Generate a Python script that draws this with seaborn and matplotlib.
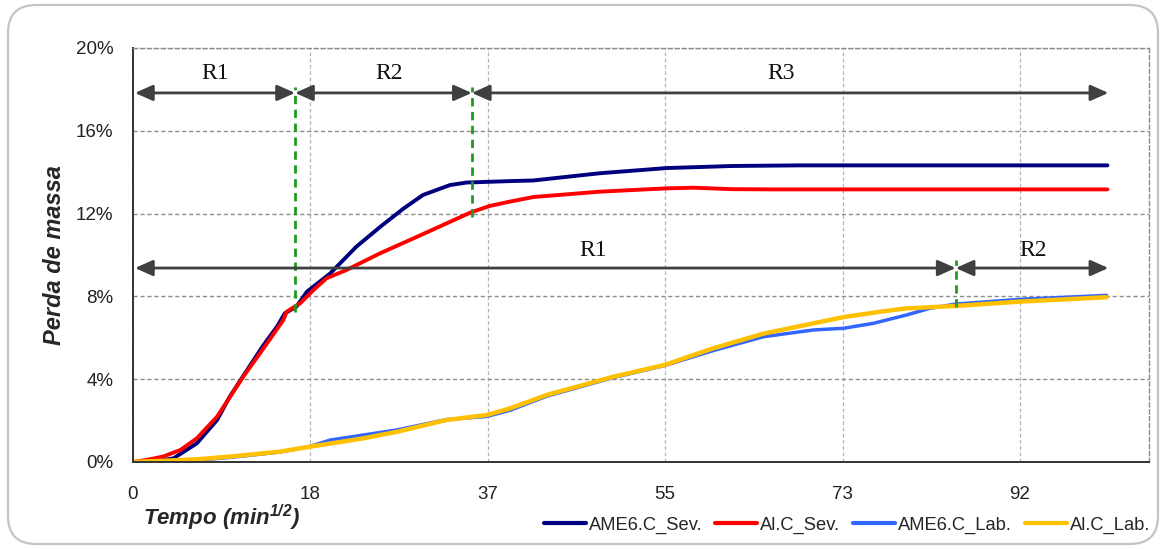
import matplotlib
matplotlib.use("Agg")
import matplotlib.pyplot as plt
from matplotlib.patches import FancyBboxPatch
from matplotlib.lines import Line2D
import pandas as pd
import seaborn as sns

# --- data (x in min^1/2, y in % mass loss) ---
ame6_sev_x = [0, 2, 4.2, 6.6, 8.7, 10.0, 11.8, 13.5, 14.9, 15.7, 16.9, 18.0, 20.4, 23.1, 25.6,
              28.0, 30.0, 32.8, 34.5, 39.0, 41.4, 48.3, 55.2, 62, 69, 80, 90, 100.8]
ame6_sev_y = [0, 0, 0.18, 0.9, 2.03, 3.15, 4.44, 5.65, 6.54, 7.18, 7.5, 8.23, 9.11, 10.4, 11.37,
              12.25, 12.9, 13.38, 13.5, 13.57, 13.6, 13.95, 14.2, 14.3, 14.33, 14.33, 14.33, 14.33]

al_sev_x = [0, 1.4, 3.1, 4.9, 6.6, 8.7, 11.4, 13.5, 15.55, 15.9, 17.3, 18.65, 20.0, 22.1, 25.55,
            29.0, 32.45, 34.9, 36.9, 39.0, 41.4, 48.3, 55.2, 58, 62, 66, 80, 100.8]
al_sev_y = [0, 0.1, 0.26, 0.58, 1.14, 2.19, 4.12, 5.49, 6.86, 7.26, 7.67, 8.3, 8.87, 9.28, 10.08,
            10.8, 11.53, 12.05, 12.37, 12.58, 12.8, 13.06, 13.22, 13.25, 13.18, 13.17, 13.17, 13.17]

ame6_lab_x = [0, 5, 10, 15.2, 18.3, 20.4, 27.3, 32.45, 36.6, 39, 42.8, 49.7, 55, 60, 65.2,
              70.4, 73.5, 76.6, 80, 82.4, 85.1, 91.8, 100.7]
ame6_lab_y = [0, 0.02, 0.22, 0.48, 0.75, 1.06, 1.55, 2.05, 2.2, 2.5, 3.18, 4.08, 4.66, 5.38, 6.05,
              6.38, 6.46, 6.7, 7.1, 7.42, 7.63, 7.86, 8.05]

al_lab_x = [0, 6.6, 10.0, 15.2, 18.3, 23.8, 27.3, 32.45, 36.6, 39.0, 42.8, 49.7, 55.0, 60.0,
            65.2, 70.4, 73.5, 77.3, 80.0, 85.1, 91.8, 100.7]
al_lab_y = [0, 0.13, 0.26, 0.5, 0.74, 1.14, 1.46, 2.03, 2.27, 2.59, 3.24, 4.12, 4.69, 5.49,
            6.2, 6.7, 7.0, 7.26, 7.42, 7.54, 7.75, 7.96]

series_names = ["AME6.C_Sev.", "Al.C_Sev.", "AME6.C_Lab.", "Al.C_Lab."]
series_colors = ["#00007f", "#ff0000", "#3366ff", "#ffc000"]
series_widths = [2.8, 2.8, 2.5, 3.2]

x_tick_step = 18.35
x_tick_labels = ["0", "18", "37", "55", "73", "92"]
y_ticks = [0, 4, 8, 12, 16, 20]

# regime boundaries (vertical green markers) and arrow rows
sev_bounds = [0.2, 16.76, 35.05, 100.9]
sev_labels = ["R1", "R2", "R3"]
sev_label_x = [8.5, 26.5, 67.0]
lab_bounds = [0.2, 85.1, 100.9]
lab_labels = ["R1", "R2"]
lab_label_x = [47.6, 93.1]

frames = []
for name, xs, ys in zip(series_names,
                        [ame6_sev_x, al_sev_x, ame6_lab_x, al_lab_x],
                        [ame6_sev_y, al_sev_y, ame6_lab_y, al_lab_y]):
    frames.append(pd.DataFrame({"tempo": xs, "perda": ys, "serie": name}))
df = pd.concat(frames, ignore_index=True)

sns.set_style("white")
plt.rcParams["font.family"] = ["Liberation Sans", "DejaVu Sans"]
plt.rcParams["mathtext.fontset"] = "custom"
plt.rcParams["mathtext.it"] = "Liberation Sans:bold:italic"
plt.rcParams["mathtext.rm"] = "Liberation Sans:bold:italic"

fig = plt.figure(figsize=(11.63, 5.49), dpi=100)
ax = fig.add_axes([133 / 1163, 1 - 462 / 549, (1149 - 133) / 1163, (462 - 48) / 549])

sns.lineplot(data=df, x="tempo", y="perda", hue="serie", hue_order=series_names,
             palette=dict(zip(series_names, series_colors)), sort=False,
             estimator=None, legend=False, ax=ax)
for line, lw in zip(ax.get_lines(), series_widths):
    line.set_linewidth(lw)
    line.set_solid_capstyle("round")
    line.set_solid_joinstyle("round")

ax.set_xlim(0, 105.1)
ax.set_ylim(0, 20)
ax.set_xticks([i * x_tick_step for i in range(len(x_tick_labels))])
ax.set_xticklabels(x_tick_labels)
ax.set_yticks(y_ticks)
ax.set_yticklabels([f"{v}%" for v in y_ticks])
ax.tick_params(axis="both", labelsize=13.5, colors="#222222", length=5, width=1.2,
               direction="out")
ax.tick_params(axis="y", pad=9)
ax.tick_params(axis="x", pad=12)

ax.grid(True, axis="y", color="#8c8c8c", linestyle=(0, (3, 2)), linewidth=1.0)
ax.grid(True, axis="x", color="#b4b4b4", linestyle=(0, (3, 2)), linewidth=0.9)
for side in ["top", "right"]:
    ax.spines[side].set_color("#8c8c8c")
    ax.spines[side].set_linestyle((0, (3, 2)))
    ax.spines[side].set_linewidth(1.0)
for side in ["left", "bottom"]:
    ax.spines[side].set_color("#333333")
    ax.spines[side].set_linewidth(1.4)

ax.set_xlabel("")
ax.set_ylabel("Perda de massa", fontsize=17, fontweight="bold", fontstyle="italic",
              labelpad=7)
fig.text(143 / 1163, 1 - 518 / 549, r"Tempo (min$^{1/2}$)", fontsize=16,
         fontweight="bold", fontstyle="italic", ha="left", va="center")

# green regime boundaries
green = "#1e9a1e"
ax.vlines(sev_bounds[1], 7.26, 18.1, colors=green, linestyles=(0, (3, 2)), linewidth=2)
ax.vlines(sev_bounds[2], 11.85, 18.1, colors=green, linestyles=(0, (3, 2)), linewidth=2)
ax.vlines(lab_bounds[1], 7.47, 9.76, colors=green, linestyles=(0, (3, 2)), linewidth=2)

arrow_kw = dict(arrowstyle="<|-|>,head_length=0.9,head_width=0.4", color="#404040",
                lw=2, mutation_scale=12, shrinkA=0, shrinkB=0)


def draw_arrow_row(bounds, labels, label_x, y_arrow, y_text):
    for a, b in zip(bounds[:-1], bounds[1:]):
        ax.annotate("", xy=(b, y_arrow), xytext=(a, y_arrow), arrowprops=arrow_kw)
    for lab, lx in zip(labels, label_x):
        ax.text(lx, y_text, lab, fontsize=17, family="Liberation Serif", ha="center",
                va="center", color="#111111")


draw_arrow_row(sev_bounds, sev_labels, sev_label_x, 17.83, 18.75)
draw_arrow_row(lab_bounds, lab_labels, lab_label_x, 9.37, 10.2)

handles = [Line2D([0], [0], color=c, lw=3) for c in series_colors]
fig.legend(handles, series_names, loc="center right", ncol=4,
           bbox_to_anchor=(1150 / 1163, 1 - 525 / 549), frameon=False, fontsize=13.2,
           handlelength=2.3, handletextpad=0.15, columnspacing=0.7, borderpad=0,
           borderaxespad=0)

frame = FancyBboxPatch((0.08, 0.05), 11.5, 5.39, boxstyle="round,pad=0,rounding_size=0.28",
                       transform=fig.dpi_scale_trans, fill=False, ec="#c4c4c4", lw=1.6)
fig.patches.append(frame)

fig.savefig("out.png", dpi=100)
